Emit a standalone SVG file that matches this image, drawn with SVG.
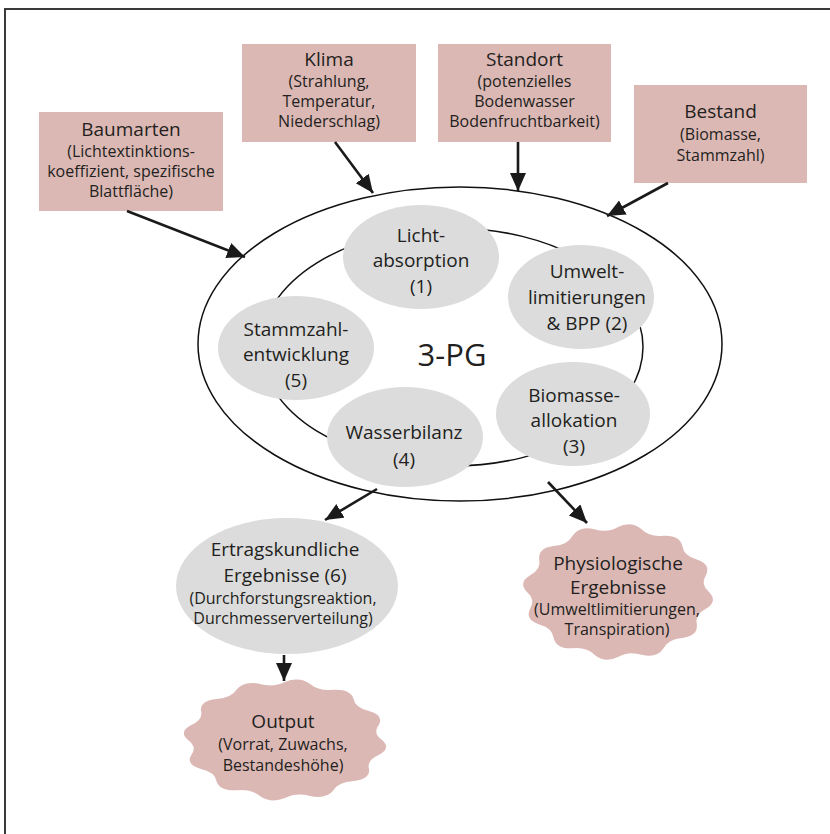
<svg xmlns="http://www.w3.org/2000/svg" width="830" height="834" viewBox="0 0 830 834">
<style>
text{font-family:"Open Sans","Noto Sans","DejaVu Sans",sans-serif;fill:#231f20;text-anchor:middle}
.t{font-size:19px}
.s{font-size:16px}
.box{fill:#dcb8b5}
.gray{fill:#dcdcdc}
.ring{fill:none;stroke:#111;stroke-width:1.5}
.conn line{stroke:#1a1a1a;stroke-width:2.6;marker-end:url(#ah)}
</style>
<defs>
<marker id="ah" markerUnits="userSpaceOnUse" markerWidth="20" markerHeight="18" refX="18" refY="8" orient="auto">
<path d="M0,0 L18,8 L0,16 z" fill="#1a1a1a"/>
</marker>
<path id="wavy" d="M100,0 Q110.05,14.49 96.59,25.88 Q84.07,34.82 86.60,50 Q88.06,67.57 70.71,70.71 Q55.40,72.19 50,86.60 Q42.48,102.55 25.88,96.59 Q11.88,90.22 0,100 Q-14.49,110.05 -25.88,96.59 Q-34.82,84.07 -50,86.60 Q-67.57,88.06 -70.71,70.71 Q-72.19,55.40 -86.60,50 Q-102.55,42.48 -96.59,25.88 Q-90.22,11.88 -100,0 Q-110.05,-14.49 -96.59,-25.88 Q-84.07,-34.82 -86.60,-50 Q-88.06,-67.57 -70.71,-70.71 Q-55.40,-72.19 -50,-86.60 Q-42.48,-102.55 -25.88,-96.59 Q-11.88,-90.22 0,-100 Q14.49,-110.05 25.88,-96.59 Q34.82,-84.07 50,-86.60 Q67.57,-88.06 70.71,-70.71 Q72.19,-55.40 86.60,-50 Q102.55,-42.48 96.59,-25.88 Q90.22,-11.88 100,0 Z"/>
</defs>
<rect width="830" height="834" fill="#fff"/>
<path d="M5,834 L5,9 L830,9" fill="none" stroke="#3a3a3a" stroke-width="2"/>

<g id="model">
<ellipse class="ring" cx="460" cy="344" rx="262" ry="157"/>
<ellipse class="ring" cx="452" cy="347" rx="191" ry="119" stroke-width="1.2"/>
<text x="452" y="366" style="font-size:31px">3-PG</text>
</g>

<g id="baumarten">
<rect class="box" x="39" y="112" width="184" height="99"/>
<text class="t" x="131" y="136">Baumarten</text>
<text class="s" x="131" y="157">(Lichtextinktions-</text>
<text class="s" x="131" y="177">koeffizient, spezifische</text>
<text class="s" x="131" y="197">Blattfläche)</text>
</g>
<g id="klima">
<rect class="box" x="242" y="44" width="174" height="98"/>
<text class="t" x="329" y="66">Klima</text>
<text class="s" x="329" y="87">(Strahlung,</text>
<text class="s" x="329" y="107">Temperatur,</text>
<text class="s" x="329" y="127">Niederschlag)</text>
</g>
<g id="standort">
<rect class="box" x="438" y="44" width="173" height="98"/>
<text class="t" x="524.5" y="66">Standort</text>
<text class="s" x="524.5" y="87">(potenzielles</text>
<text class="s" x="524.5" y="107">Bodenwasser</text>
<text class="s" x="524.5" y="127">Bodenfruchtbarkeit)</text>
</g>
<g id="bestand">
<rect class="box" x="634" y="85" width="173" height="98"/>
<text class="t" x="720.5" y="118">Bestand</text>
<text class="s" x="720.5" y="140">(Biomasse,</text>
<text class="s" x="720.5" y="161">Stammzahl)</text>
</g>

<g id="licht">
<ellipse class="gray" cx="421" cy="257" rx="78" ry="52"/>
<text class="t" x="421" y="242">Licht-</text>
<text class="t" x="421" y="267">absorption</text>
<text class="t" x="421" y="293">(1)</text>
</g>
<g id="umwelt">
<ellipse class="gray" cx="581" cy="297" rx="73" ry="52"/>
<text class="t" x="587" y="278">Umwelt-</text>
<text class="t" x="587" y="304">limitierungen</text>
<text class="t" x="587" y="330">&amp; BPP (2)</text>
</g>
<g id="stammzahl">
<ellipse class="gray" cx="296" cy="348" rx="78" ry="52"/>
<text class="t" x="296" y="336">Stammzahl-</text>
<text class="t" x="296" y="361">entwicklung</text>
<text class="t" x="296" y="387">(5)</text>
</g>
<g id="wasser">
<ellipse class="gray" cx="405" cy="437" rx="78" ry="50"/>
<text class="t" x="404" y="439">Wasserbilanz</text>
<text class="t" x="404" y="466">(4)</text>
</g>
<g id="biomasse">
<ellipse class="gray" cx="573" cy="414" rx="77" ry="52"/>
<text class="t" x="574" y="402">Biomasse-</text>
<text class="t" x="574" y="427">allokation</text>
<text class="t" x="574" y="453">(3)</text>
</g>

<g id="ertrag">
<ellipse class="gray" cx="287" cy="586" rx="111" ry="68"/>
<text class="t" x="285" y="556">Ertragskundliche</text>
<text class="t" x="285" y="582">Ergebnisse (6)</text>
<text class="s" x="283" y="604">(Durchforstungsreaktion,</text>
<text class="s" x="283" y="624">Durchmesserverteilung)</text>
</g>
<g id="physio">
<use href="#wavy" class="box" transform="translate(618,592) scale(0.91,0.65)"/>
<text class="t" x="618" y="570">Physiologische</text>
<text class="t" x="618" y="594">Ergebnisse</text>
<text class="s" x="617" y="615">(Umweltlimitierungen,</text>
<text class="s" x="617" y="635">Transpiration)</text>
</g>
<g id="output">
<use href="#wavy" class="box" transform="translate(285,740) scale(0.97,0.58)"/>
<text class="t" x="283" y="728">Output</text>
<text class="s" x="283" y="750">(Vorrat, Zuwachs,</text>
<text class="s" x="283" y="771">Bestandeshöhe)</text>
</g>

<g id="connectors" class="conn">
<line x1="127" y1="211" x2="245" y2="257"/>
<line x1="335" y1="142" x2="373" y2="193"/>
<line x1="518" y1="142" x2="518" y2="191"/>
<line x1="668" y1="183" x2="607" y2="216"/>
<line x1="377" y1="489" x2="325" y2="520"/>
<line x1="548" y1="482" x2="587" y2="523"/>
<line x1="284" y1="655" x2="284" y2="681"/>
</g>
</svg>
